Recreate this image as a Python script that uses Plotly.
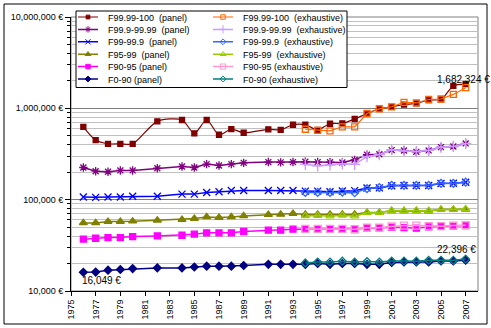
import math
import plotly.graph_objects as go

# ---------------- data ----------------
years_panel = [1976, 1977, 1978, 1979, 1980, 1982, 1984, 1985, 1986, 1987, 1988, 1989,
               1991, 1992, 1993, 1994, 1995, 1996, 1997, 1998, 1999, 2000, 2001, 2002,
               2003, 2004, 2005, 2006, 2007]
years_exh = [1994, 1995, 1996, 1997, 1998, 1999, 2000, 2001, 2002, 2003, 2004, 2005, 2006, 2007]

f9999_100_panel = [628000, 449000, 409000, 409000, 409000, 720000, 745000, 532000, 745000,
                   514000, 593000, 540000, 589000, 582000, 661000, 661000, 582000, 678000,
                   684000, 764000, 873000, 990000, 1040000, 1100000, 1135000, 1233000,
                   1255000, 1760000, 1840000]
f9999_100_exh = [590000, 574000, 567000, 628000, 628000, 878000, 985000, 1040000, 1160000,
                 1145000, 1250000, 1265000, 1420000, 1682324]

f999_9999_panel = [225000, 205000, 202000, 209000, 209000, 221000, 231000, 225000, 245000,
                   237000, 245000, 253000, 258000, 256000, 258000, 260000, 258000, 257000,
                   255000, 273000, 311000, 314000, 349000, 345000, 334000, 346000, 376000,
                   382000, 413000]
f999_9999_exh = [243000, 235000, 240000, 247000, 244000, 296000, 312000, 352000, 342000,
                 336000, 346000, 375000, 383000, 410000]

f99_999_panel = [107000, 106000, 107000, 107000, 109000, 109000, 115000, 115000, 120000,
                 122000, 126000, 126000, 126000, 126000, 126000, 124000, 124000, 122000,
                 124500, 125500, 134000, 134500, 142000, 143000, 143000, 143000, 150500,
                 151000, 155000]
f99_999_exh = [120000, 120000, 120000, 121000, 119000, 132000, 135500, 143500, 143500,
               143500, 143500, 151000, 151000, 155500]

f95_99_panel = [55700, 55700, 57700, 57700, 58100, 59500, 60600, 62200, 64700, 63800, 64700,
                66400, 68500, 69000, 70600, 69000, 69000, 69000, 69300, 69300, 72400, 72400,
                75400, 75400, 75400, 75000, 78100, 78100, 78100]
f95_99_exh = [66400, 67000, 66000, 67500, 66000, 72000, 72400, 76000, 76000, 76000, 75500,
              78100, 78100, 79000]

f90_95_panel = [36900, 37800, 38500, 38500, 39400, 40100, 40800, 41900, 43300, 43300, 43300,
                44800, 46300, 46300, 47500, 47500, 47700, 47700, 47700, 47000, 49100, 49100,
                49900, 49500, 48700, 50400, 51200, 51200, 52100]
f90_95_exh = [47800, 47800, 47800, 47800, 47500, 49300, 49300, 50900, 52100, 52100, 51200,
              51200, 52100, 52500]

f0_90_panel = [16049, 16100, 16900, 17200, 17600, 17900, 17900, 18300, 18700, 18700, 18700,
               19000, 19600, 19600, 19600, 19600, 20000, 19600, 20000, 20000, 19600, 19600,
               20500, 20800, 20800, 20800, 21300, 21300, 21700]
f0_90_exh = [20300, 20800, 20800, 21200, 20800, 21000, 20800, 21300, 21300, 21200, 21700,
             21700, 21700, 22396]

x_ticks = list(range(1975, 2008, 2))

FONT = "Arial, Liberation Sans, sans-serif"

# (name, years, values, color, marker symbol, marker size, line width, shape, legend)
series = [
    ("F99.99-100  (panel)", years_panel, f9999_100_panel, "#800000", "square", 5, 1.2, "spline", "legend"),
    ("F99.9-99.99  (panel)", years_panel, f999_9999_panel, "#800080", "asterisk-open", 7, 1.5, "linear", "legend"),
    ("F99-99.9  (panel)", years_panel, f99_999_panel, "#0000FF", "x-thin-open", 7, 1.5, "linear", "legend"),
    ("F95-99  (panel)", years_panel, f95_99_panel, "#808000", "triangle-up", 7, 1.5, "linear", "legend"),
    ("F90-95 (panel)", years_panel, f90_95_panel, "#FF00FF", "square", 6, 1.5, "linear", "legend"),
    ("F0-90 (panel)", years_panel, f0_90_panel, "#000080", "diamond", 6, 1.5, "linear", "legend"),
    ("F99.99-100  (exhaustive)", years_exh, f9999_100_exh, "#FF6600", "square-open", 6, 1.2, "linear", "legend2"),
    ("F99.9-99.99  (exhaustive)", years_exh, f999_9999_exh, "#CC99FF", "cross-thin-open", 8, 1.5, "linear", "legend2"),
    ("F99-99.9  (exhaustive)", years_exh, f99_999_exh, "#3366FF", "diamond-open", 6, 1.5, "linear", "legend2"),
    ("F95-99  (exhaustive)", years_exh, f95_99_exh, "#99CC00", "triangle-up-open", 7, 1.5, "linear", "legend2"),
    ("F90-95 (exhaustive)", years_exh, f90_95_exh, "#FF99CC", "square-open", 7, 1.5, "linear", "legend2"),
    ("F0-90 (exhaustive)", years_exh, f0_90_exh, "#008080", "diamond-open", 6, 1.5, "linear", "legend2"),
]

# draw order: panel and exhaustive interleaved
order = [0, 6, 1, 7, 2, 8, 3, 9, 4, 10, 5, 11]

fig = go.Figure()
for i in order:
    name, xs, ys, color, sym, size, lw, shape, lg = series[i]
    line = dict(color=color, width=lw, shape=shape)
    if shape == "spline":
        line["smoothing"] = 0.8
    fig.add_trace(go.Scatter(
        x=xs, y=ys, name=name, mode="lines+markers", legend=lg,
        line=line,
        marker=dict(symbol=sym, size=size, color=color, line=dict(color=color, width=1.3)),
    ))

W, H = 491, 328
ML, MR, MT, MB = 71, 13, 17, 37
PW, PH = W - ML - MR, H - MT - MB


def px_x(p):
    return (p - ML) / PW


def px_y(p):
    return (H - MB - p) / PH


leg_common = dict(
    orientation="v", yanchor="top", xanchor="left",
    bgcolor="rgba(0,0,0,0)", borderwidth=0,
    font=dict(family=FONT, size=9, color="black"),
    traceorder="normal", tracegroupgap=0,
)

fig.update_layout(
    width=W, height=H,
    margin=dict(l=ML, r=MR, t=MT, b=MB, autoexpand=False),
    paper_bgcolor="white", plot_bgcolor="white",
    font=dict(family=FONT, size=9, color="black"),
    showlegend=True,
    legend=dict(x=px_x(68), y=px_y(2.5), **leg_common),
    legend2=dict(x=px_x(203), y=px_y(2.5), **leg_common),
    xaxis=dict(
        range=[1975, 2008], tickmode="array", tickvals=x_ticks,
        tickangle=-90, ticks="outside", ticklen=4, tickcolor="black",
        showline=True, linecolor="black", linewidth=1,
        showgrid=False, zeroline=False,
        tickfont=dict(family=FONT, size=9, color="black"),
    ),
    yaxis=dict(
        type="log", range=[4, 7], dtick=1,
        tickformat=",.0f", ticksuffix=" €",
        ticks="outside", ticklen=5, tickcolor="black",
        showline=True, linecolor="black", linewidth=1,
        showgrid=True, gridcolor="#808080", gridwidth=1,
        minor=dict(dtick="D1", showgrid=True, gridcolor="#C0C0C0", gridwidth=1,
                   ticks="outside", ticklen=3, tickcolor="black"),
        tickfont=dict(family=FONT, size=9, color="black"),
        zeroline=False,
    ),
    shapes=[
        # plot-area frame (top / right)
        dict(type="rect", xref="paper", yref="paper", x0=0, x1=1, y0=0, y1=1,
             line=dict(color="#808080", width=1), layer="below"),
        # chart outer frame
        dict(type="rect", xref="paper", yref="paper",
             x0=px_x(4), x1=px_x(487), y0=px_y(324), y1=px_y(4),
             line=dict(color="black", width=1)),
        # legend box
        dict(type="rect", xref="paper", yref="paper",
             x0=px_x(76), x1=px_x(347), y0=px_y(87.5), y1=px_y(11),
             line=dict(color="black", width=1), fillcolor="white", layer="above"),
    ],
)

annots = [
    dict(x=years_exh[-1], y=math.log10(f9999_100_exh[-1]),
         text=f"{f9999_100_exh[-1]:,} €", xanchor="center", yanchor="bottom", yshift=1, xshift=-2),
    dict(x=years_exh[-1], y=math.log10(f0_90_exh[-1]),
         text=f"{f0_90_exh[-1]:,} €", xanchor="center", yanchor="bottom", yshift=2, xshift=-9),
    dict(x=years_panel[0], y=math.log10(f0_90_panel[0]),
         text=f"{f0_90_panel[0]:,} €", xanchor="left", yanchor="top", yshift=-1, xshift=-3),
]
for a in annots:
    fig.add_annotation(xref="x", yref="y", showarrow=False,
                       font=dict(family=FONT, size=10, color="black"), **a)

# tighten legend rows to the original's spacing (plotly enforces >= 19px per entry)
post = r"""
var gd = document.getElementById('{plot_id}');
function tighten(){
  ['legend','legend2'].forEach(function(cls){
    var lg = gd.querySelector('g.' + cls);
    if(!lg) return;
    var items = lg.querySelectorAll('g.traces');
    var y0 = null, step = 12.4;
    items.forEach(function(el, i){
      var t = el.getAttribute('transform') || '';
      var m = /translate\(\s*([-\d.e]+)[\s,]+([-\d.e]+)\s*\)/.exec(t);
      if(!m) return;
      var x = parseFloat(m[1]), y = parseFloat(m[2]);
      if(y0 === null) y0 = y;
      el.setAttribute('transform', 'translate(' + x + ',' + (y0 + i * step) + ')');
      var ln = el.querySelector('path.js-line');
      if(ln){ ln.setAttribute('d', 'M10,0h20'); }
      el.querySelectorAll('path.scatterpts').forEach(function(p){
        var pt = p.getAttribute('transform') || '';
        if(pt.indexOf('scale') < 0) p.setAttribute('transform', pt + ' scale(0.75)');
      });
    });
  });
}
tighten();
"""

fig.write_html("out.html", post_script=post)
